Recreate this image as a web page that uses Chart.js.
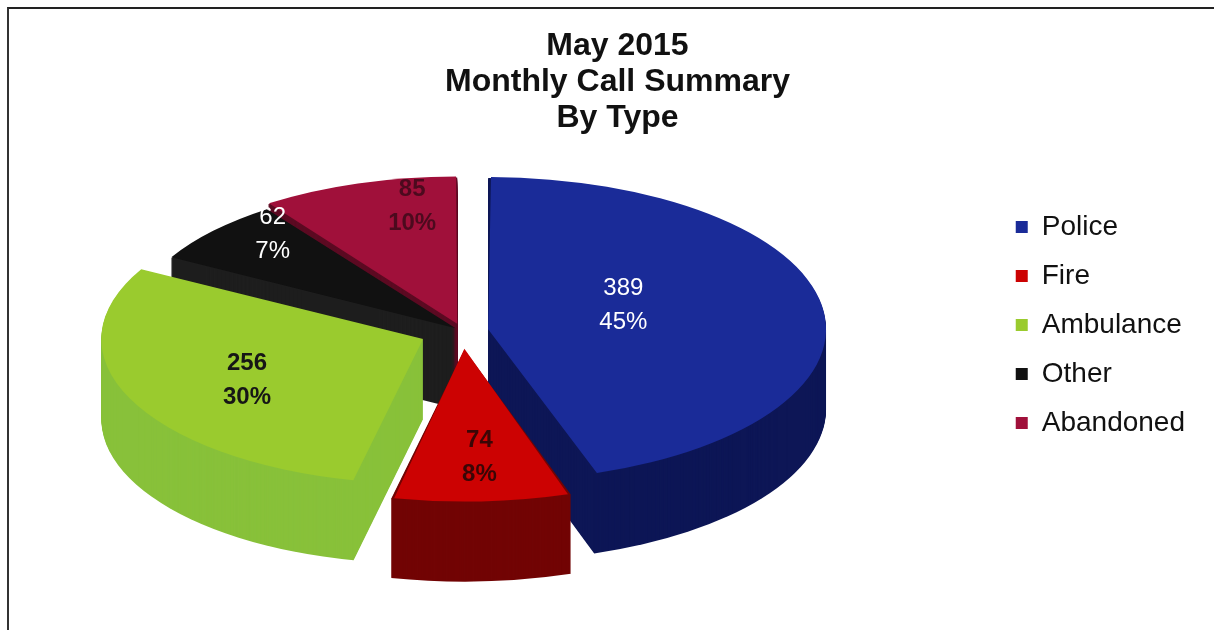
<!DOCTYPE html>
<html>
<head>
<meta charset="utf-8">
<title>May 2015 Monthly Call Summary</title>
<script src="https://cdn.jsdelivr.net/npm/chart.js@4"></script>
<style>
  html, body { margin: 0; padding: 0; background: #fff; }
  #wrap { position: relative; width: 1214px; height: 630px; }
  #frame {
    position: absolute; left: 7px; top: 7px; right: 0; bottom: 0;
    border-top: 2px solid #222; border-left: 2px solid #333;
    pointer-events: none;
  }
</style>
</head>
<body>
<div id="wrap">
  <canvas id="chart" width="1214" height="630"></canvas>
  <div id="frame"></div>
</div>
<script>
"use strict";

/* ── Data ─────────────────────────────────────────────── */
const categories = ["Police", "Fire", "Ambulance", "Other", "Abandoned"];
const calls      = [389, 74, 256, 62, 85];
const percents   = ["45%", "8%", "30%", "7%", "10%"];

/* ── Styles ───────────────────────────────────────────── */
const topColors  = ["#1a2b98", "#cc0202", "#9acb2e", "#111111", "#a0103a"];
const sideColors = ["#0d1656", "#720404", "#88c13a", "#1e1e1e", "#5c0a22"];
const explode    = [46, 70, 76, 16, 30];
const labelColor = ["#ffffff", "#3a0606", "#161616", "#ffffff", "#4c0a1e"];
const labelBold  = [false, true, true, false, true];
const labelDist  = [0.45, 0.8, 0.7, 0.8, 0.68];
const labelDX    = [-7, 2, 28, 8, 21];
const labelDY    = [-13, -7, 0, -17, -24];

const FONT  = "'Liberation Sans', Arial, sans-serif";
const RX    = 320;   // horizontal radius on screen
const RY    = 144;   // vertical radius on screen
const DEPTH = 80;    // wall height
const SHIFT_X = -55;
const SHIFT_Y = 8;

/* ── 3D pie plugin ────────────────────────────────────── */
function pieTransform(chart) {
  const arc = chart.getDatasetMeta(0).data[0];
  const r = arc.outerRadius;
  return { cx: arc.x, cy: arc.y, sx: RX / r, sy: RY / r, tx: arc.x + SHIFT_X, ty: arc.y + SHIFT_Y };
}

function wedgePath(ctx, a, dy) {
  const off = (a.options.offset || 0) / 4;
  const circ = a.endAngle - a.startAngle;
  const fix = 1 - Math.sin(Math.min(Math.PI, circ));
  const half = (a.startAngle + a.endAngle) / 2;
  const ox = a.x + Math.cos(half) * off;
  const oy = a.y + Math.sin(half) * off + dy;
  ctx.beginPath();
  ctx.moveTo(ox, oy);
  ctx.arc(ox, oy, a.outerRadius + off * fix, a.startAngle, a.endAngle);
  ctx.closePath();
}

const pie3d = {
  id: "pie3d",
  beforeDatasetsDraw(chart) {
    const ctx = chart.ctx;
    const t = pieTransform(chart);
    const arcs = chart.getDatasetMeta(0).data;
    ctx.save();
    ctx.translate(t.tx, t.ty);
    ctx.scale(t.sx, t.sy);
    ctx.translate(-t.cx, -t.cy);
    for (let d = DEPTH; d >= 1; d--) {
      arcs.forEach((a, i) => {
        ctx.fillStyle = sideColors[i];
        wedgePath(ctx, a, d / t.sy);
        ctx.fill();
      });
    }
  },
  afterDatasetsDraw(chart) {
    const ctx = chart.ctx;
    ctx.restore();
    const t = pieTransform(chart);
    const arcs = chart.getDatasetMeta(0).data;
    arcs.forEach((a, i) => {
      const half = (a.startAngle + a.endAngle) / 2;
      const off = (a.options.offset || 0) / 4;
      const rr = a.outerRadius * labelDist[i] + off;
      const ux = a.x + Math.cos(half) * rr;
      const uy = a.y + Math.sin(half) * rr;
      const x = t.tx + (ux - t.cx) * t.sx + labelDX[i];
      const y = t.ty + (uy - t.cy) * t.sy + labelDY[i];
      ctx.save();
      ctx.fillStyle = labelColor[i];
      ctx.font = (labelBold[i] ? "bold " : "") + "24px " + FONT;
      ctx.textAlign = "center";
      ctx.textBaseline = "middle";
      ctx.fillText(String(calls[i]), x, y - 17);
      ctx.fillText(percents[i], x, y + 17);
      ctx.restore();
    });
  },
};

/* ── Chart ────────────────────────────────────────────── */
new Chart(document.getElementById("chart"), {
  type: "pie",
  data: {
    labels: categories,
    datasets: [{
      data: calls,
      backgroundColor: topColors,
      borderWidth: 0,
      offset: explode,
      clip: false,
    }],
  },
  options: {
    responsive: false,
    animation: false,
    events: [],
    layout: { padding: { left: 40, right: 19, top: 0, bottom: 128 } },
    plugins: {
      title: {
        display: true,
        text: ["May 2015", "Monthly Call Summary", "By Type"],
        color: "#111",
        font: { family: FONT, size: 32, weight: "bold", lineHeight: 1.125 },
        padding: { top: 28, bottom: 8 },
      },
      legend: {
        position: "right",
        title: {
          display: true,
          text: " ",
          font: { size: 10, lineHeight: 1 },
          padding: { top: 138, bottom: 0 },
        },
        labels: {
          color: "#111",
          font: { family: FONT, size: 28 },
          boxWidth: 12,
          boxHeight: 12,
          padding: 21,
        },
      },
      tooltip: { enabled: false },
    },
  },
  plugins: [pie3d],
});
</script>
</body>
</html>
